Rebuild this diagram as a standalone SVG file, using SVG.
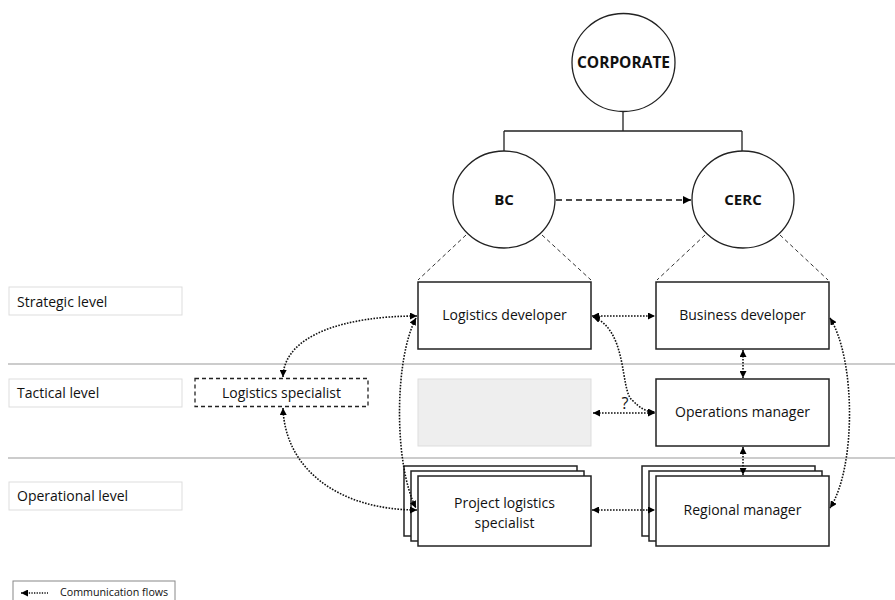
<svg xmlns="http://www.w3.org/2000/svg" width="895" height="600" viewBox="0 0 895 600">
<defs>
<marker id="ah" viewBox="0 0 8 8" refX="8" refY="4" markerWidth="7" markerHeight="7" markerUnits="userSpaceOnUse" orient="auto-start-reverse">
<path d="M0,0 L8,4 L0,8 z" fill="#000"/>
</marker>
<marker id="ah2" viewBox="0 0 8 8" refX="8" refY="4" markerWidth="8" markerHeight="8" markerUnits="userSpaceOnUse" orient="auto">
<path d="M0,0 L8,4 L0,8 z" fill="#000"/>
</marker>
</defs>
<style>
.t{font-family:"Open Sans","Noto Sans","Liberation Sans",sans-serif;font-size:14px;fill:#111;text-anchor:middle}
.lv{font-family:"Open Sans","Noto Sans","Liberation Sans",sans-serif;font-size:14px;fill:#111}
.b{font-family:"Open Sans","Noto Sans","Liberation Sans",sans-serif;font-size:15px;font-weight:bold;fill:#111;text-anchor:middle}
.box{fill:#fff;stroke:#222;stroke-width:1.5}
.circ{fill:#fff;stroke:#222;stroke-width:1.3}
.lvbox{fill:#fff;stroke:#ddd;stroke-width:1}
.sep{stroke:#bbb;stroke-width:1.3}
.flow{fill:none;stroke:#111;stroke-width:1.6;stroke-dasharray:1.6 1.4;marker-start:url(#ah);marker-end:url(#ah)}
.thin{fill:none;stroke:#333;stroke-width:1;stroke-dasharray:4 3}
</style>
<rect width="895" height="600" fill="#fff"/>
<g id="separators">
<line class="sep" x1="8" y1="364" x2="895" y2="364"/>
<line class="sep" x1="8" y1="458" x2="895" y2="458"/>
</g>
<g id="level-strategic"><rect class="lvbox" x="9" y="287" width="173" height="28"/><text class="lv" x="17" y="307">Strategic level</text></g>
<g id="level-tactical"><rect class="lvbox" x="9" y="379" width="173" height="28"/><text class="lv" x="17" y="398">Tactical level</text></g>
<g id="level-operational"><rect class="lvbox" x="9" y="482" width="173" height="28"/><text class="lv" x="17" y="501">Operational level</text></g>
<g id="tree">
<path d="M623,111 V131 M504,131 H742 M504,131 V151 M742,131 V151" fill="none" stroke="#222" stroke-width="1.3"/>
<line x1="466" y1="235" x2="418" y2="280" class="thin"/>
<line x1="542" y1="235" x2="591" y2="280" class="thin"/>
<line x1="705" y1="235" x2="657" y2="280" class="thin"/>
<line x1="780" y1="235" x2="828" y2="280" class="thin"/>
</g>
<g id="corporate"><ellipse class="circ" cx="623.5" cy="62.5" rx="51.5" ry="49"/><text class="b" x="623.5" y="68" style="font-size:15.5px">CORPORATE</text></g>
<g id="bc"><ellipse class="circ" cx="504" cy="199.5" rx="51" ry="48.5"/><text class="b" x="504" y="205">BC</text></g>
<g id="cerc"><ellipse class="circ" cx="743" cy="199.5" rx="51" ry="48.5"/><text class="b" x="743" y="205">CERC</text></g>
<g id="logistics-developer"><rect class="box" x="418" y="282" width="173" height="67"/><text class="t" x="504.5" y="320">Logistics developer</text></g>
<g id="business-developer"><rect class="box" x="656" y="282" width="173" height="67"/><text class="t" x="742.5" y="320">Business developer</text></g>
<g id="grey-box"><rect x="418" y="379" width="173" height="67" fill="#eeeeee" stroke="#dddddd" stroke-width="1"/></g>
<g id="operations-manager"><rect class="box" x="656" y="379" width="173" height="67"/><text class="t" x="742.5" y="417">Operations manager</text></g>
<g id="logistics-specialist"><rect x="195" y="378.5" width="173" height="28" fill="#fff" stroke="#222" stroke-width="1.3" stroke-dasharray="4 3"/><text class="t" x="281.5" y="397.5">Logistics specialist</text></g>
<g id="project-logistics-specialist">
<rect class="box" x="404" y="466" width="173" height="70" stroke-width="1.2"/>
<rect class="box" x="411" y="471" width="173" height="70" stroke-width="1.2"/>
<rect class="box" x="418" y="476" width="173" height="70"/>
<text class="t" x="504.5" y="508">Project logistics</text>
<text class="t" x="504.5" y="528">specialist</text>
</g>
<g id="regional-manager">
<rect class="box" x="642" y="466" width="173" height="70" stroke-width="1.2"/>
<rect class="box" x="649" y="471" width="173" height="70" stroke-width="1.2"/>
<rect class="box" x="656" y="476" width="173" height="70"/>
<text class="t" x="742.5" y="515">Regional manager</text>
</g>
<g id="connectors">
<line x1="556" y1="200" x2="691" y2="200" fill="none" stroke="#111" stroke-width="1.6" stroke-dasharray="6 4" marker-end="url(#ah2)"/>
<path class="flow" d="M283,377 C284,335 345,316 417,316"/>
<path class="flow" d="M283,408 C285,470 340,510 417,510"/>
<path class="flow" d="M416,318 C394,360 394,465 416,508"/>
<path class="flow" d="M592,316 H655"/>
<path class="flow" d="M593,317 C628,330 620,390 632,400 C640,408 646,412 655,412"/>
<path class="flow" d="M593,413 H655"/>
<path class="flow" d="M743,350 V378"/>
<path class="flow" d="M743,447 V475"/>
<path class="flow" d="M830,318 C856,360 856,468 830,508"/>
<path class="flow" d="M592,510 H655"/>
<text class="t" x="625" y="409" style="font-size:16px">?</text>
</g>
<g id="legend">
<rect x="13" y="581" width="162" height="25" fill="#fff" stroke="#888" stroke-width="1"/>
<path d="M21,593 H48" fill="none" stroke="#111" stroke-width="1.3" stroke-dasharray="1.3 1.3" marker-start="url(#ah)"/>
<text x="60" y="596" style="font-family:'Open Sans','Noto Sans','Liberation Sans',sans-serif;font-size:10.7px;fill:#111">Communication flows</text>
</g>
</svg>
